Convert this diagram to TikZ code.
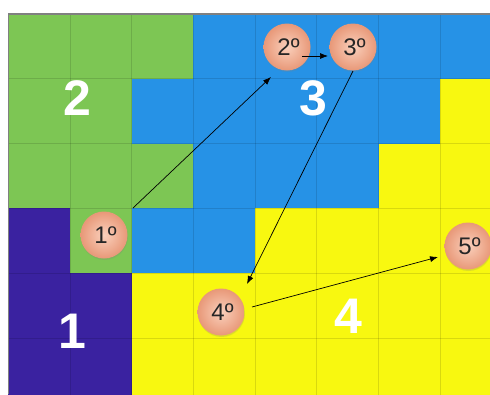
\documentclass[tikz,border=0pt]{standalone}
\usepackage{fontspec}
\setmainfont{Liberation Sans}
\usetikzlibrary{calc,arrows.meta,shadows}
\definecolor{cg}{HTML}{7DC654}
\definecolor{cb}{HTML}{2692E6}
\definecolor{cy}{HTML}{F8F810}
\definecolor{cp}{HTML}{3A22A0}
\definecolor{pkL}{HTML}{FAD0BC}
\definecolor{pkD}{HTML}{E89878}
\begin{document}
\begin{tikzpicture}[x=1pt,y=-1pt,
  ball/.style={circle, minimum size=47pt, inner sep=0pt, inner color=pkL, outer color=pkD,
    font=\fontsize{24}{24}\selectfont, text=black!85,
    drop shadow={opacity=0.22, shadow xshift=0.5pt, shadow yshift=-1.5pt}},
  big/.style={text=white, font=\fontsize{50}{50}\selectfont\bfseries},
  arr/.style={-{Latex[length=8pt,width=6pt]}, line width=0.7pt, black},
  gridline/.style={black, opacity=0.12, line width=0.8pt}]
\useasboundingbox (0,0) rectangle (490,394);
\clip (0,0) rectangle (490,394);
\def\W{61.7}\def\H{64.8}
\foreach \row [count=\r from 0] in {{g,g,g,b,b,b,b,b},{g,g,b,b,b,b,b,y},{g,g,g,b,b,b,y,y},{p,g,b,b,y,y,y,y},{p,p,y,y,y,y,y,y},{p,p,y,y,y,y,y,y}}{
  \foreach \c [count=\k from 0] in \row {
    \fill[c\c] (8.3+\k*\W,14+\r*\H) rectangle (8.3+\k*\W+\W+0.3,14+\r*\H+\H+0.3);
  }
}
\foreach \k in {1,...,7} \draw[gridline] (8.3+\k*\W,14) -- (8.3+\k*\W,400);
\foreach \r in {1,...,5} \draw[gridline] (8.3,14+\r*\H) -- (495,14+\r*\H);
\draw[gray, line width=1.5pt] (8.3,394) -- (8.3,14) -- (490,14);
\node[big] (L2) at (77,98) {2};
\node[big] (L3) at (313,98) {3};
\node[big] (L1) at (72,331) {1};
\node[big] (L4) at (348,316) {4};
\node[ball] (b1) at (104,235) {\hspace{3pt}1º};
\node[ball] (b2) at (287,47) {\hspace{3pt}2º};
\node[ball] (b3) at (353,47) {\hspace{3pt}3º};
\node[ball] (b4) at (221,312) {\hspace{3pt}4º};
\node[ball] (b5) at (468,246) {\hspace{3pt}5º};
\draw[arr] ($(b1)+(29,-27)$) -- ($(b2)+(-16,30)$);
\draw[arr] ($(b2)+(15,9)$) -- ($(b3)+(-25,9)$);
\draw[arr] ($(b3)+(0,24)$) -- ($(b4)+(26,-28)$);
\draw[arr] ($(b4)+(31,-5)$) -- ($(b5)+(-30,11)$);
\end{tikzpicture}
\end{document}
